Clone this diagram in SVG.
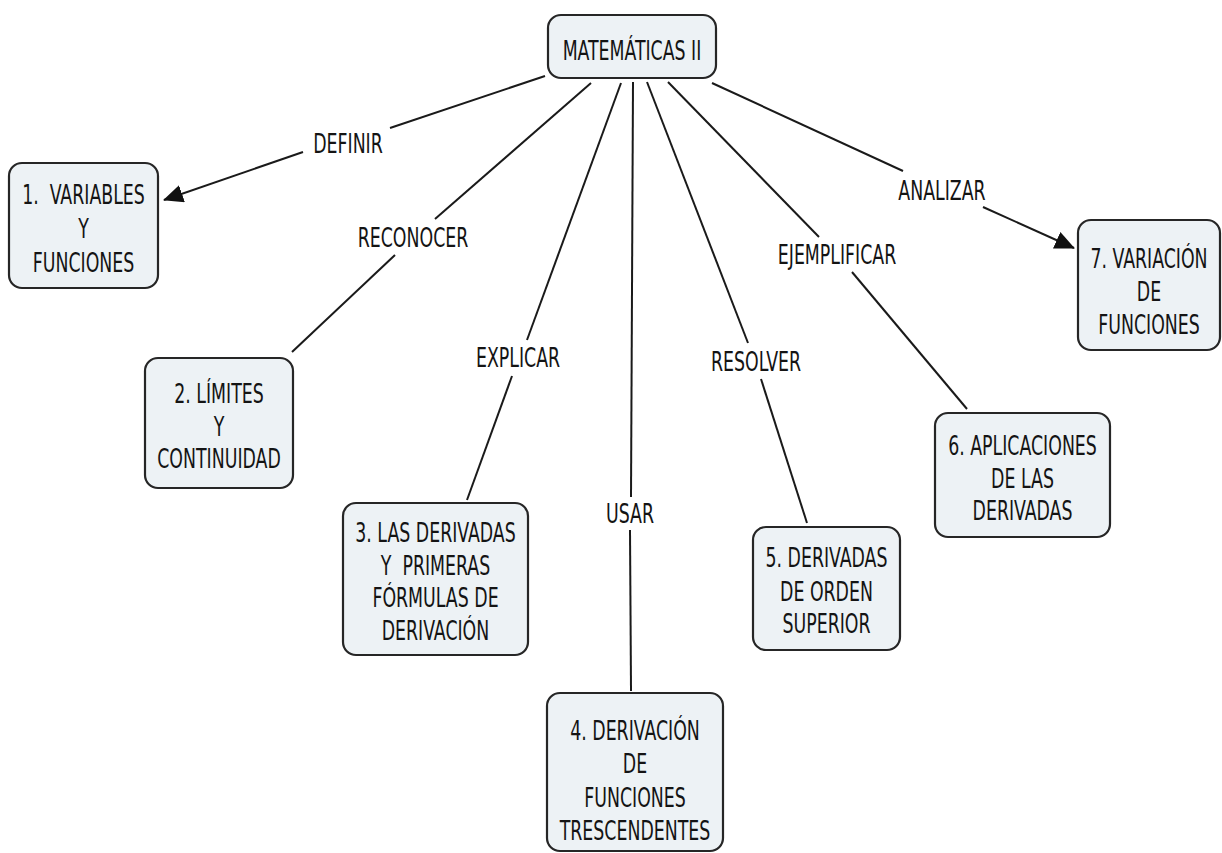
<svg xmlns="http://www.w3.org/2000/svg" width="1222" height="853" viewBox="0 0 1222 853">
<style>
.t{font-family:"DejaVu Sans Condensed","DejaVu Sans",sans-serif;font-stretch:condensed;font-size:19.3px;fill:#141414;text-anchor:middle}
.box{fill:#edf2f5;stroke:#262626;stroke-width:2.2}
.c{stroke:#1a1a1a;stroke-width:2;fill:none}
</style>
<defs>
<marker id="ah" markerUnits="userSpaceOnUse" markerWidth="22" markerHeight="20" refX="19" refY="9" orient="auto">
<path d="M0,0 L20,9 L0,18 z" fill="#111"/>
</marker>
</defs>
<rect width="1222" height="853" fill="#ffffff"/>
<g id="connectors">
<line class="c" x1="545" y1="76" x2="390" y2="128"/>
<line class="c" x1="303" y1="152" x2="164" y2="200" marker-end="url(#ah)"/>
<line class="c" x1="591" y1="83" x2="435" y2="219"/>
<line class="c" x1="395" y1="255" x2="292" y2="352"/>
<line class="c" x1="621" y1="83" x2="527" y2="340"/>
<line class="c" x1="512" y1="376" x2="467" y2="500"/>
<line class="c" x1="633" y1="82" x2="631" y2="497"/>
<line class="c" x1="630" y1="530" x2="631" y2="691"/>
<line class="c" x1="647" y1="82" x2="748" y2="343"/>
<line class="c" x1="761" y1="379" x2="807" y2="523"/>
<line class="c" x1="668" y1="82" x2="819" y2="237"/>
<line class="c" x1="852" y1="272" x2="967" y2="409"/>
<line class="c" x1="712" y1="83" x2="903" y2="171"/>
<line class="c" x1="983" y1="207" x2="1074" y2="248" marker-end="url(#ah)"/>
<text class="t" transform="translate(348,153) scale(1,1.42)">DEFINIR</text>
<text class="t" transform="translate(413,247) scale(1,1.42)">RECONOCER</text>
<text class="t" transform="translate(518,367) scale(1,1.42)">EXPLICAR</text>
<text class="t" transform="translate(630,523) scale(1,1.42)">USAR</text>
<text class="t" transform="translate(756,371) scale(1,1.42)">RESOLVER</text>
<text class="t" transform="translate(837,264) scale(1,1.42)">EJEMPLIFICAR</text>
<text class="t" transform="translate(942,200) scale(1,1.42)">ANALIZAR</text>
</g>
<g id="n0">
<rect class="box" x="548" y="15" width="168" height="63" rx="13"/>
<text class="t" transform="translate(632,60) scale(1,1.42)">MATEMÁTICAS II</text>
</g>
<g id="n1">
<rect class="box" x="9" y="163" width="149" height="125" rx="13"/>
<text class="t" transform="translate(83.5,204) scale(1,1.42)"><tspan x="0" y="0">1.&#160; VARIABLES</tspan><tspan x="0" y="23.9">Y</tspan><tspan x="0" y="47.9">FUNCIONES</tspan></text>
</g>
<g id="n2">
<rect class="box" x="145" y="358" width="148" height="130" rx="13"/>
<text class="t" transform="translate(219,403) scale(1,1.42)"><tspan x="0" y="0">2. LÍMITES</tspan><tspan x="0" y="22.9">Y</tspan><tspan x="0" y="45.8">CONTINUIDAD</tspan></text>
</g>
<g id="n3">
<rect class="box" x="343" y="503" width="185" height="152" rx="13"/>
<text class="t" transform="translate(435.5,542) scale(1,1.42)"><tspan x="0" y="0">3. LAS DERIVADAS</tspan><tspan x="0" y="23.2">Y&#160; PRIMERAS</tspan><tspan x="0" y="45.8">FÓRMULAS DE</tspan><tspan x="0" y="68.7">DERIVACIÓN</tspan></text>
</g>
<g id="n4">
<rect class="box" x="547" y="693" width="176" height="158" rx="13"/>
<text class="t" transform="translate(635,740) scale(1,1.42)"><tspan x="0" y="0">4. DERIVACIÓN</tspan><tspan x="0" y="23.2">DE</tspan><tspan x="0" y="47.2">FUNCIONES</tspan><tspan x="0" y="70.4">TRESCENDENTES</tspan></text>
</g>
<g id="n5">
<rect class="box" x="753" y="527" width="147" height="123" rx="13"/>
<text class="t" transform="translate(826.5,567) scale(1,1.42)"><tspan x="0" y="0">5. DERIVADAS</tspan><tspan x="0" y="23.9">DE ORDEN</tspan><tspan x="0" y="46.5">SUPERIOR</tspan></text>
</g>
<g id="n6">
<rect class="box" x="935" y="413" width="175" height="124" rx="13"/>
<text class="t" transform="translate(1022.5,455) scale(1,1.42)"><tspan x="0" y="0">6. APLICACIONES</tspan><tspan x="0" y="23.2">DE LAS</tspan><tspan x="0" y="45.8">DERIVADAS</tspan></text>
</g>
<g id="n7">
<rect class="box" x="1078" y="220" width="142" height="130" rx="13"/>
<text class="t" transform="translate(1149,268) scale(1,1.42)"><tspan x="0" y="0">7. VARIACIÓN</tspan><tspan x="0" y="23.6">DE</tspan><tspan x="0" y="46.5">FUNCIONES</tspan></text>
</g>
</svg>
